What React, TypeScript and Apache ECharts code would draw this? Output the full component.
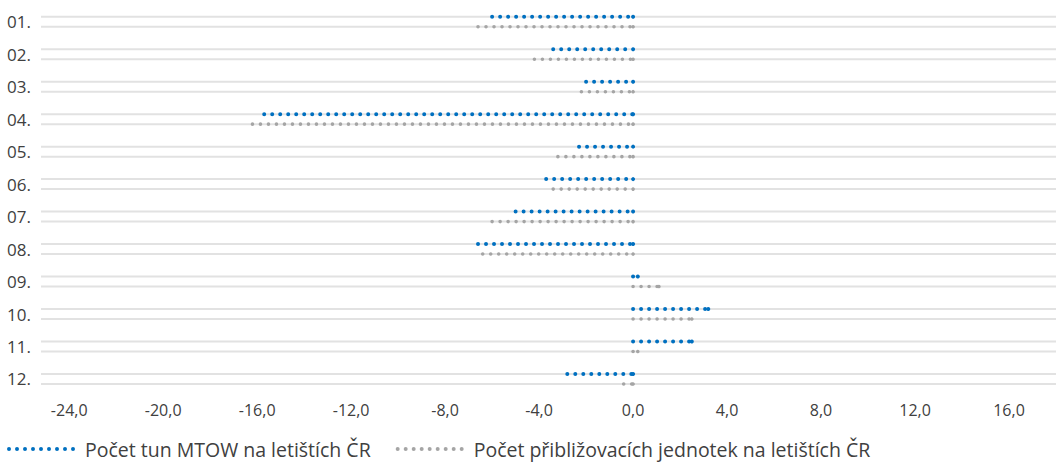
import React, { useEffect, useRef } from "react";
import * as echarts from "echarts";

const categories = ["01.", "02.", "03.", "04.", "05.", "06.", "07.", "08.", "09.", "10.", "11.", "12."];
const mtowValues = [-6.0, -3.4, -2.0, -15.7, -2.3, -3.7, -5.0, -6.6, 0.2, 3.2, 2.5, -2.8];
const approachValues = [-6.6, -4.2, -2.2, -16.2, -3.2, -3.4, -6.0, -6.4, 1.1, 2.5, 0.2, -0.4];
const tickValues = [-24, -20, -16, -12, -8, -4, 0, 4, 8, 12, 16];
const seriesNames = ["Počet tun MTOW na letištích ČR", "Počet přibližovacích jednotek na letištích ČR"];

const BLUE = "#0070C0";
const GRAY = "#A5A5A5";
const FONT = "'Open Sans', sans-serif";

function dotsIcon(): string {
  let d = "";
  for (let i = 0; i < 9; i++) {
    const cx = 2 + i * 8;
    d += `M${cx - 2},2A2,2 0 1,0 ${cx + 2},2A2,2 0 1,0 ${cx - 2},2Z`;
  }
  return "path://" + d;
}

function makeRenderer(offset: number, color: string, radius: number) {
  return (params: any, api: any) => {
    const v = api.value(0);
    const cat = api.value(1);
    const p0 = api.coord([0, cat]);
    const p1 = api.coord([v, cat]);
    const y = p0[1] + offset;
    const cs = params.coordSys;
    const xa = Math.min(p0[0], p1[0]);
    const xb = Math.max(p0[0], p1[0]);
    return {
      type: "group",
      children: [
        {
          type: "line",
          silent: true,
          shape: { x1: cs.x, y1: y, x2: cs.x + cs.width, y2: y },
          style: { stroke: "#E2E2E2", lineWidth: 2 },
        },
        {
          type: "line",
          shape: { x1: xa, y1: y, x2: xb, y2: y },
          style: { stroke: color, lineWidth: radius * 2, lineDash: [0, 8], lineCap: "round" },
        },
        {
          type: "circle",
          shape: { cx: xb, cy: y, r: radius },
          style: { fill: color },
        },
      ],
    };
  };
}

export default function App() {
  const ref = useRef<HTMLDivElement>(null);
  useEffect(() => {
    if (!ref.current) return;
    const chart = echarts.init(ref.current, null, { renderer: "svg" });
    const icon = dotsIcon();
    chart.setOption({
      animation: false,
      backgroundColor: "#ffffff",
      textStyle: { fontFamily: FONT },
      grid: { left: 41, right: 0, top: 5.5, bottom: 66.8, containLabel: false },
      xAxis: {
        type: "value",
        min: -25.2,
        max: 18,
        splitLine: { show: false },
        axisLine: { show: false },
        axisTick: { show: false },
        axisLabel: {
          customValues: tickValues,
          formatter: (v: number) => v.toFixed(1).replace(".", ","),
          color: "#404040",
          fontSize: 16,
          fontFamily: FONT,
          margin: 7,
        },
      },
      yAxis: {
        type: "category",
        data: categories,
        inverse: true,
        axisLine: { show: false },
        axisTick: { show: false },
        splitLine: { show: false },
        axisLabel: {
          align: "left",
          margin: 34,
          color: "#404040",
          fontSize: 17,
          fontFamily: FONT,
        },
      },
      legend: {
        left: 7,
        top: 439,
        padding: 0,
        itemWidth: 68,
        itemHeight: 4,
        itemGap: 25,
        textStyle: { color: "#404040", fontSize: 19.5, fontFamily: FONT, padding: [0, 0, 0, 5] },
        data: [
          { name: seriesNames[0], icon },
          { name: seriesNames[1], icon },
        ],
      },
      series: [
        {
          type: "custom",
          name: seriesNames[0],
          itemStyle: { color: BLUE },
          encode: { x: 0, y: 1 },
          renderItem: makeRenderer(-5, BLUE, 2),
          data: mtowValues.map((v, i) => [v, i]),
        },
        {
          type: "custom",
          name: seriesNames[1],
          itemStyle: { color: GRAY },
          encode: { x: 0, y: 1 },
          renderItem: makeRenderer(5, GRAY, 1.8),
          data: approachValues.map((v, i) => [v, i]),
        },
      ],
    });
    return () => chart.dispose();
  }, []);
  return <div ref={ref} style={{ width: 1056, height: 462, position: "absolute", left: 0, top: 0 }} />;
}
